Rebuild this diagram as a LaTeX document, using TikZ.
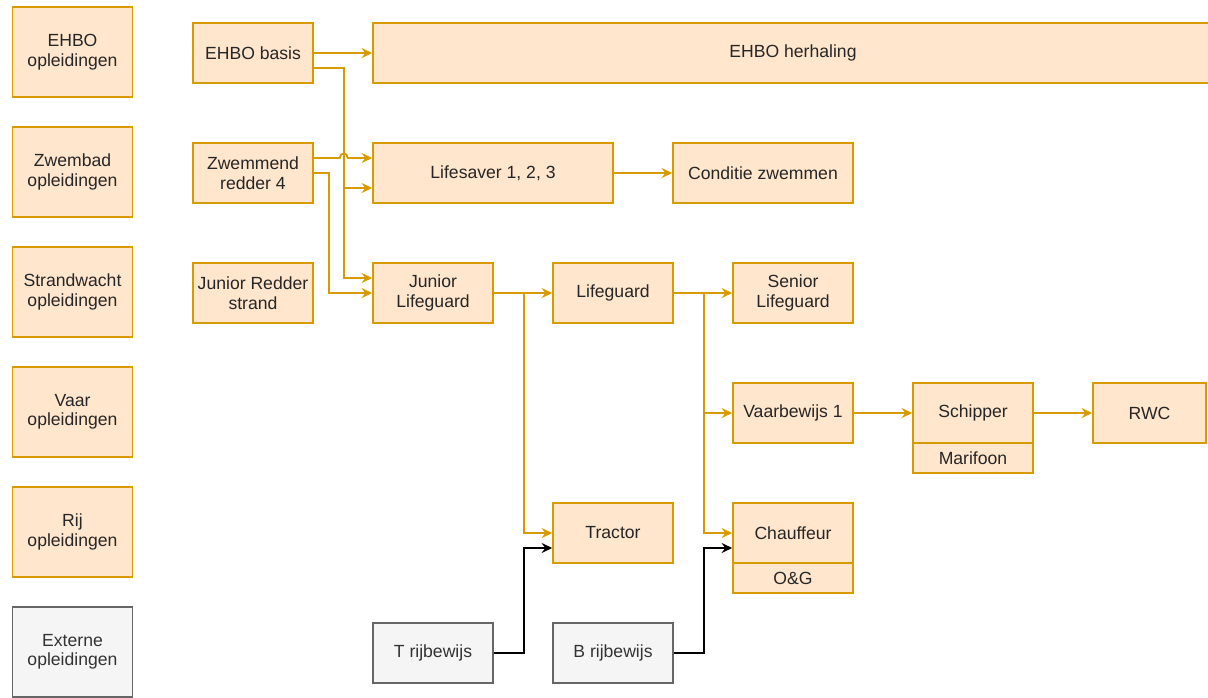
\documentclass[tikz,border=0pt]{standalone}
\usepackage{fontspec}
\setmainfont{Liberation Sans}
\usetikzlibrary{arrows.meta,calc}
\definecolor{orfill}{HTML}{FFE6CC}
\definecolor{ordraw}{HTML}{D79B00}
\definecolor{grfill}{HTML}{F5F5F5}
\definecolor{grdraw}{HTML}{666666}
\definecolor{grtext}{HTML}{333333}
\tikzset{
  course/.style={draw=ordraw, fill=orfill, line width=1.1pt, minimum width=90pt,
    minimum height=45pt, inner sep=0pt, align=center, text=black!85,
    font=\fontsize{13.2}{14.6}\selectfont},
  extern/.style={course, draw=grdraw, fill=grfill, text=grtext},
  flow/.style={color=ordraw, line width=1.4pt, -{Stealth[length=8pt,width=7.5pt,inset=2.8pt]}},
  extflow/.style={flow, color=black},
}
\begin{document}
\begin{tikzpicture}[x=.75pt, y=-.75pt]
\clip (0,0) rectangle (1208,697);

% legend
\foreach \y/\t in {52/EHBO, 172/Zwembad, 292/Strandwacht, 412/Vaar, 532/Rij}
{
    \node[course, minimum height=67.5pt] (leg\t) at (72.5,\y) {\t\\opleidingen};
}
\node[extern, minimum height=67.5pt] (legExterne) at (72.5,652) {Externe\\opleidingen};

% courses
\node[course] (ehbobasis) at (253,53) {EHBO basis};
\node[course, minimum width=630pt] (ehboherhaling) at (793,53) {EHBO herhaling};
\node[course] (zwemmend) at (253,173) {Zwemmend\\redder 4};
\node[course, minimum width=180pt] (lifesaver) at (493,173) {Lifesaver 1, 2, 3};
\node[course, minimum width=135pt] (conditie) at (763,173) {Conditie zwemmen};
\node[course] (jrredder) at (253,293) {Junior Redder\\strand};
\node[course] (jrlifeguard) at (433,293) {Junior\\Lifeguard};
\node[course] (lifeguard) at (613,293) {Lifeguard};
\node[course] (senior) at (793,293) {Senior\\Lifeguard};
\node[course] (vaarbewijs) at (793,413) {Vaarbewijs 1};
\node[course] (schipper) at (973,413) {Schipper};
\node[course, minimum height=22.5pt] (marifoon) at (973,458) {Marifoon};
\node[course, minimum width=84.75pt] (rwc) at (1149.5,413) {RWC};
\node[course] (tractor) at (613,533) {Tractor};
\node[course] (chauffeur) at (793,533) {Chauffeur};
\node[course, minimum height=22.5pt] (oeng) at (793,578) {O\&G};
\node[extern] (trijbewijs) at (433,653) {T rijbewijs};
\node[extern] (brijbewijs) at (613,653) {B rijbewijs};

% connectors
\draw[flow] (ehbobasis.east) -- (ehbobasis.east -| ehboherhaling.west);
\draw[flow] ($(ehbobasis.east)+(0,15)$) -- ++(30,0) |- ($(lifesaver.west)+(0,15)$);
\draw[flow] ($(ehbobasis.east)+(30,15)$) |- ($(jrlifeguard.west)+(0,-15)$);
\draw[flow] ($(zwemmend.east)+(0,-15)$) -- ($(zwemmend.east)+(26,-15)$)
    .. controls ($(zwemmend.east)+(26,-21)$) and ($(zwemmend.east)+(34,-21)$) .. ($(zwemmend.east)+(34,-15)$)
    -- ($(lifesaver.west)+(0,-15)$);
\draw[flow] (zwemmend.east) -- ++(15,0) |- (jrlifeguard.west);
\draw[flow] (lifesaver) -- (conditie);
\draw[flow] (jrlifeguard) -- (lifeguard);
\draw[flow] (jrlifeguard.east) -- ++(30,0) |- (tractor.west);
\draw[flow] (lifeguard) -- (senior);
\draw[flow] (lifeguard.east) -- ++(30,0) |- (vaarbewijs.west);
\draw[flow] (lifeguard.east) -- ++(30,0) |- (chauffeur.west);
\draw[flow] (vaarbewijs) -- (schipper);
\draw[flow] (schipper) -- (rwc);
\draw[extflow] (trijbewijs.east) -- ++(30,0) |- ($(tractor.west)+(0,15)$);
\draw[extflow] (brijbewijs.east) -- ++(30,0) |- ($(chauffeur.west)+(0,15)$);
\end{tikzpicture}
\end{document}
